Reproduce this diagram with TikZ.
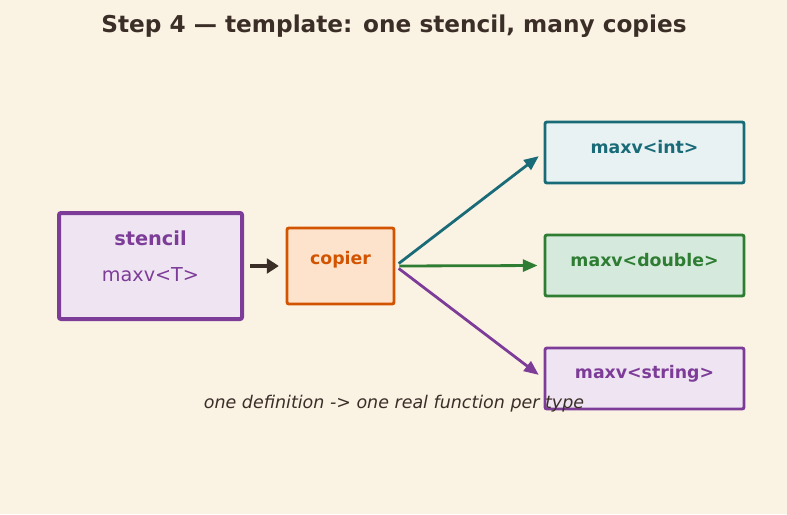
\documentclass[tikz,border=0pt]{standalone}
\usepackage{fontspec}
\setmainfont{DejaVu Sans}
\definecolor{bgCream}{HTML}{FAF3E4}
\definecolor{inkDark}{HTML}{3A2E27}
\definecolor{accentPurple}{HTML}{7D3C98}
\definecolor{accentOrange}{HTML}{D35400}
\definecolor{accentTeal}{HTML}{1A6B78}
\definecolor{accentGreen}{HTML}{2E7D32}
\definecolor{fillPurple}{HTML}{EFE5F2}
\definecolor{fillOrange}{HTML}{FDE3CB}
\definecolor{fillTeal}{HTML}{E8F2F3}
\definecolor{fillGreen}{HTML}{D5EADC}
\usepackage{tikz}
\usetikzlibrary{arrows.meta, positioning}

\begin{document}
\begin{tikzpicture}[
    x=0.75pt, y=-0.75pt,
    box/.style={rectangle, rounded corners=1.5pt, inner sep=0pt, line width=2.2pt},
    bigbox/.style={box, minimum width=149.25pt, minimum height=45.75pt},
    lbl/.style={font=\fontsize{13}{15}\selectfont\bfseries, inner sep=0pt},
    arr/.style={-{Triangle[length=11pt, width=9pt]}, line width=2.1pt, shorten <=3pt, shorten >=4.5pt}
]
\fill[bgCream] (0,0) rectangle (787,514);
\useasboundingbox (0,0) rectangle (787,514);

\node[font=\fontsize{17.4}{20}\selectfont\bfseries, text=inkDark] (title) at (394,26) {Step 4 — template: one stencil, many copies};

\node[box, line width=3pt, draw=accentPurple, fill=fillPurple, minimum width=137.25pt, minimum height=79.5pt] (sten) at (150.5,266) {};
\node[lbl, font=\fontsize{14.5}{17}\selectfont\bfseries, text=accentPurple] (stenT) at (150.5,238) {stencil};
\node[font=\fontsize{14.4}{17}\selectfont, text=accentPurple, inner sep=0pt] (stenS) at (150.5,275) {maxv<T>};

\node[box, draw=accentOrange, fill=fillOrange, minimum width=80.25pt, minimum height=57pt] (cop) at (340.5,266) {};
\node[lbl, text=accentOrange] (copT) at (340.5,260) {copier};

\node[bigbox, draw=accentTeal, fill=fillTeal] (int) at (644.5,152.5) {};
\node[lbl, text=accentTeal] (intT) at (644.5,147) {maxv<int>};
\node[bigbox, draw=accentGreen, fill=fillGreen] (dbl) at (644.5,265.5) {};
\node[lbl, text=accentGreen] (dblT) at (644.5,260) {maxv<double>};
\node[bigbox, draw=accentPurple, fill=fillPurple] (str) at (644.5,378.5) {};
\node[lbl, text=accentPurple] (strT) at (644.5,374) {maxv<string>};

% caption sits over the last box
\node[font=\fontsize{13.1}{15}\selectfont\itshape, text=inkDark, inner sep=0pt] (cap) at (394,404) {one definition -> one real function per type};

\draw[arr, inkDark, line width=3pt, -{Triangle[length=9pt, width=11pt]}, shorten <=4.5pt, shorten >=5pt] (sten) -- (cop);
\draw[arr, accentTeal] (cop.east) -- (int.west);
\draw[arr, accentGreen] (cop.east) -- (dbl.west);
\draw[arr, accentPurple] (cop.east) -- (str.west);
\end{tikzpicture}
\end{document}
